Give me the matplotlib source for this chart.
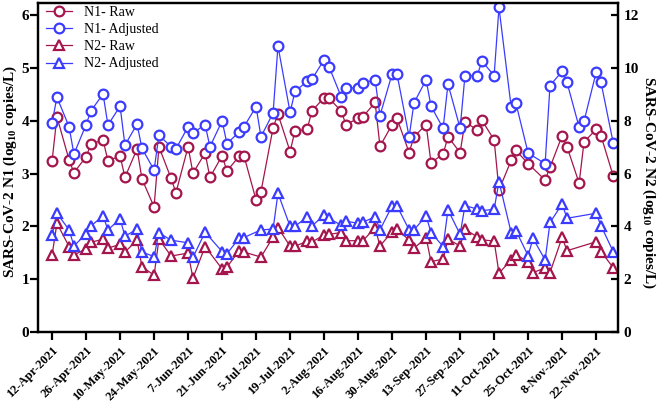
import matplotlib
matplotlib.use("Agg")
import matplotlib.pyplot as plt
import matplotlib.dates as mdates
import pandas as pd

# ---------------- data ----------------
n1_dates = [
    "2021-04-12", "2021-04-14", "2021-04-19", "2021-04-21", "2021-04-26", "2021-04-28",
    "2021-05-03", "2021-05-05", "2021-05-10", "2021-05-12", "2021-05-17", "2021-05-19",
    "2021-05-24", "2021-05-26", "2021-05-31", "2021-06-02", "2021-06-07", "2021-06-09",
    "2021-06-14", "2021-06-16", "2021-06-21", "2021-06-23", "2021-06-28", "2021-06-30",
    "2021-07-05", "2021-07-07", "2021-07-12", "2021-07-14", "2021-07-19", "2021-07-21",
    "2021-07-26", "2021-07-28", "2021-08-02", "2021-08-04", "2021-08-09", "2021-08-11",
    "2021-08-16", "2021-08-18", "2021-08-23", "2021-08-25", "2021-08-30", "2021-09-01",
    "2021-09-06", "2021-09-08", "2021-09-13", "2021-09-15", "2021-09-20", "2021-09-22",
    "2021-09-27", "2021-09-29", "2021-10-04", "2021-10-06", "2021-10-11", "2021-10-13",
    "2021-10-18", "2021-10-20", "2021-10-25",
    "2021-11-01", "2021-11-03", "2021-11-08", "2021-11-10", "2021-11-15", "2021-11-17",
    "2021-11-22", "2021-11-24", "2021-11-29",
]
n1_raw = [
    3.24, 4.08, 3.26, 3.02, 3.32, 3.56, 3.64, 3.24, 3.34, 2.93, 3.47, 2.90,
    2.37, 3.51, 2.91, 2.64, 3.51, 3.01, 3.39, 2.93, 3.34, 3.05, 3.33, 3.34,
    2.50, 2.66, 3.87, 4.13, 3.42, 3.81, 3.84, 4.19, 4.44, 4.43, 4.19, 3.93,
    4.05, 4.08, 4.35, 3.52, 3.93, 4.05, 3.40, 3.70, 3.93, 3.21, 3.37, 3.70,
    3.40, 3.98, 3.83, 4.01, 3.64, 2.69, 3.25, 3.44, 3.19,
    2.88, 3.12, 3.72, 3.51, 2.82, 3.60, 3.84, 3.72, 2.96,
]
n1_adjusted = [
    3.96, 4.45, 3.89, 3.37, 3.93, 4.19, 4.51, 3.92, 4.28, 3.54, 3.94, 3.48,
    3.07, 3.73, 3.51, 3.47, 3.89, 3.77, 3.93, 3.51, 4.00, 3.57, 3.79, 3.89,
    4.27, 3.70, 4.15, 5.42, 4.16, 4.56, 4.75, 4.79, 5.16, 5.03, 4.46, 4.62,
    4.63, 4.72, 4.78, 4.10, 4.89, 4.89, 3.70, 4.34, 4.78, 4.28, 3.86, 4.70,
    3.86, 4.86, 4.86, 5.13, 4.86, 6.15, 4.27, 4.33, 3.39,
    3.19, 4.67, 4.94, 4.73, 3.88, 3.99, 4.92, 4.73, 3.59,
]

n2_dates = [
    "2021-04-12", "2021-04-14", "2021-04-19", "2021-04-21", "2021-04-26", "2021-04-28",
    "2021-05-03", "2021-05-05", "2021-05-10", "2021-05-12", "2021-05-17", "2021-05-19",
    "2021-05-24", "2021-05-26", "2021-05-31", "2021-06-07", "2021-06-09",
    "2021-06-14", "2021-06-21", "2021-06-23", "2021-06-28", "2021-06-30",
    "2021-07-07", "2021-07-12", "2021-07-14", "2021-07-19", "2021-07-21",
    "2021-07-26", "2021-07-28", "2021-08-02", "2021-08-04", "2021-08-09", "2021-08-11",
    "2021-08-16", "2021-08-18", "2021-08-23", "2021-08-25", "2021-08-30", "2021-09-01",
    "2021-09-06", "2021-09-08", "2021-09-13", "2021-09-15", "2021-09-20", "2021-09-22",
    "2021-09-27", "2021-09-29", "2021-10-04", "2021-10-06", "2021-10-11", "2021-10-13",
    "2021-10-18", "2021-10-20", "2021-10-25", "2021-10-27",
    "2021-11-01", "2021-11-03", "2021-11-08", "2021-11-10",
    "2021-11-22", "2021-11-24", "2021-11-29",
]
n2_raw = [
    2.91, 4.12, 3.24, 2.92, 3.15, 3.40, 3.52, 3.18, 3.32, 3.03, 3.48, 2.48,
    2.15, 3.52, 2.88, 2.99, 2.04, 3.24, 2.39, 2.46, 3.08, 3.03,
    2.84, 3.60, 3.96, 3.25, 3.25, 3.44, 3.41, 3.68, 3.70, 3.77, 3.46,
    3.46, 3.46, 3.96, 3.26, 3.80, 3.89, 3.49, 3.17, 3.58, 2.67, 2.76, 3.52,
    3.26, 3.89, 3.61, 3.49, 3.45, 2.23, 2.73, 2.92, 2.67, 2.25,
    2.43, 2.25, 3.59, 3.08, 3.42, 3.05, 2.44,
]
n2_adjusted = [
    3.68, 4.50, 3.87, 3.26, 3.72, 4.02, 4.40, 3.87, 4.29, 3.63, 3.90, 3.03,
    2.86, 3.76, 3.48, 3.38, 2.83, 3.78, 3.05, 2.97, 3.55, 3.58,
    3.87, 3.90, 5.26, 4.00, 4.00, 4.37, 4.02, 4.43, 4.31, 4.05, 4.20,
    4.12, 4.16, 4.37, 3.87, 4.78, 4.78, 3.87, 3.87, 4.40, 3.77, 3.24, 4.63,
    3.70, 4.79, 4.66, 4.60, 4.65, 5.70, 3.77, 3.84, 2.89, 3.55,
    2.73, 4.15, 4.85, 4.31, 4.50, 4.03, 3.05,
]

tick_dates = pd.date_range("2021-04-12", "2021-11-22", freq="14D")
tick_labels = [f"{d.day}-{d.strftime('%b')}-{d.year}" for d in tick_dates]

# ---------------- style ----------------
plt.rcParams["font.family"] = ["Liberation Serif", "DejaVu Serif"]
plt.rcParams["mathtext.fontset"] = "custom"
plt.rcParams["mathtext.rm"] = "Liberation Serif:bold"
plt.rcParams["mathtext.bf"] = "Liberation Serif:bold"

RED = "#A3154C"
BLUE = "#3B3BFF"

fig = plt.figure(figsize=(6.61, 4.08), dpi=100)
ax = fig.add_axes([37.5 / 661, 76 / 408, (618 - 37.5) / 661, (332 - 2.7) / 408])
ax2 = ax.twinx()

d1 = pd.to_datetime(n1_dates)
d2 = pd.to_datetime(n2_dates)

mk = dict(markersize=7, markeredgewidth=1.6, markerfacecolor="white", linewidth=0.9)
h1, = ax.plot(d1, n1_raw, marker="o", color=RED, label="N1- Raw", **mk)
h2, = ax.plot(d1, n1_adjusted, marker="o", color=BLUE, label="N1- Adjusted", **mk)
h3, = ax2.plot(d2, n2_raw, marker="^", color=RED, label="N2- Raw", **mk)
h4, = ax2.plot(d2, n2_adjusted, marker="^", color=BLUE, label="N2- Adjusted", **mk)

ax.set_xlim(pd.Timestamp("2021-04-06"), pd.Timestamp("2021-12-01"))
ax.set_ylim(0, 6.24)
ax2.set_ylim(0, 12.48)
ax.set_yticks(range(0, 7))
ax2.set_yticks(range(0, 13, 2))
ax.set_xticks(tick_dates)
ax.set_xticklabels(tick_labels, rotation=45, ha="right", rotation_mode="anchor",
                   fontsize=9, fontweight="bold")

for a in (ax, ax2):
    for s in a.spines.values():
        s.set_linewidth(1.6)
ax.tick_params(axis="y", direction="out", length=5.5, width=1.6, pad=0.5,
               labelsize=11)
ax.tick_params(axis="x", direction="out", length=6, width=1.6, pad=3)
ax2.tick_params(axis="y", direction="in", length=5, width=1.6, pad=4,
                labelsize=11)
for lab in ax.get_yticklabels() + ax2.get_yticklabels():
    lab.set_fontweight("bold")

fig.text(10 / 661, 1 - 172 / 408,
         r"SARS-CoV-2 N1 (log$_{\mathbf{10}}$ copies/L)",
         rotation=90, ha="center", va="center", fontsize=11, fontweight="bold")
fig.text(649 / 661, 1 - 182 / 408,
         r"SARS-CoV-2 N2 (log$_{\mathbf{10}}$ copies/L)",
         rotation=270, ha="center", va="center", fontsize=11, fontweight="bold")

ax2.legend(handles=[h1, h2, h3, h4], loc="upper left",
           bbox_to_anchor=(46 / 661, 1 - 6 / 408), bbox_transform=fig.transFigure,
           frameon=False, fontsize=10, borderpad=0, borderaxespad=0,
           handlelength=1.9, handletextpad=0.8, labelspacing=0.3)

fig.savefig("out.png", dpi=100)
